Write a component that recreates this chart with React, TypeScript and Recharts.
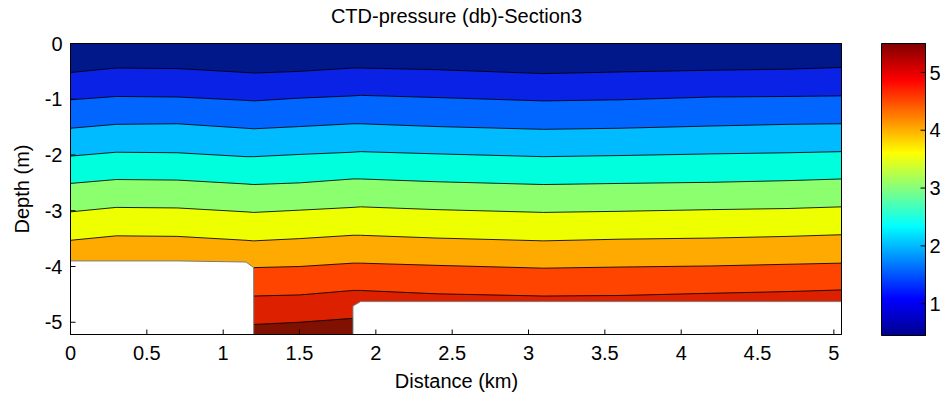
import { Area, Bar, BarChart, CartesianGrid, ComposedChart, Line, ReferenceArea, XAxis, YAxis } from 'recharts';

// distance along the section (km); repeated values give the vertical steps of the seabed
const DIST = [0, 0.3, 0.7, 1.15, 1.2, 1.2, 1.5, 1.85, 1.85, 1.9, 2.4, 3.1, 3.6, 4.2, 4.7, 5.05];
const FLOOR = -5.22;

// seabed outline (m), everything below it is blanked
const SEABED = [-3.9, -3.9, -3.9, -3.92, -4.02, FLOOR, FLOOR, FLOOR, -4.71, -4.63, -4.63, -4.63, -4.63, -4.63, -4.63, -4.63];

// depth of each pressure contour (db level -> m)
const P05 = [-0.52, -0.44, -0.45, -0.52, -0.53, -0.53, -0.5, -0.44, -0.44, -0.44, -0.47, -0.54, -0.51, -0.48, -0.46, -0.43];
const P10 = [-1.01, -0.95, -0.96, -1.02, -1.03, -1.03, -0.98, -0.94, -0.94, -0.93, -0.97, -1.03, -1.01, -0.96, -0.95, -0.94];
const P15 = [-1.52, -1.45, -1.44, -1.52, -1.53, -1.53, -1.49, -1.44, -1.44, -1.44, -1.49, -1.54, -1.52, -1.48, -1.45, -1.44];
const P20 = [-2.02, -1.95, -1.96, -2.03, -2.03, -2.03, -1.99, -1.95, -1.95, -1.94, -1.98, -2.03, -2.01, -1.98, -1.96, -1.94];
const P25 = [-2.51, -2.44, -2.45, -2.52, -2.53, -2.53, -2.5, -2.43, -2.43, -2.43, -2.48, -2.53, -2.51, -2.49, -2.46, -2.43];
const P30 = [-3.02, -2.94, -2.95, -3.02, -3.03, -3.03, -2.99, -2.94, -2.94, -2.93, -2.98, -3.03, -3.01, -2.98, -2.96, -2.93];
const P35 = [-3.53, -3.45, -3.46, -3.53, -3.54, -3.54, -3.5, -3.44, -3.44, -3.44, -3.49, -3.54, -3.51, -3.49, -3.46, -3.43];
const P40 = [FLOOR, FLOOR, FLOOR, FLOOR, -4.02, -4.02, -4.0, -3.94, -3.94, -3.94, -3.98, -4.03, -4.01, -3.99, -3.96, -3.94];
const P45 = [FLOOR, FLOOR, FLOOR, FLOOR, -4.53, -4.53, -4.51, -4.43, -4.43, -4.43, -4.49, -4.53, -4.52, -4.48, -4.45, -4.42];
const P50 = [FLOOR, FLOOR, FLOOR, FLOOR, -5.04, -5.04, -5.0, -4.93, FLOOR, FLOOR, FLOOR, FLOOR, FLOOR, FLOOR, FLOOR, FLOOR];

const LEVELS = [
  { key: 'p05', values: P05 }, { key: 'p10', values: P10 }, { key: 'p15', values: P15 },
  { key: 'p20', values: P20 }, { key: 'p25', values: P25 }, { key: 'p30', values: P30 },
  { key: 'p35', values: P35 }, { key: 'p40', values: P40 }, { key: 'p45', values: P45 },
  { key: 'p50', values: P50 },
];

const X_DOMAIN = [0, 5.05];
const Y_DOMAIN = [FLOOR, 0];
const X_TICKS = [0, 0.5, 1, 1.5, 2, 2.5, 3, 3.5, 4, 4.5, 5];
const Y_TICKS = [-5, -4, -3, -2, -1, 0];

const CB_RANGE = [0.45, 5.5];
const CB_TICKS = [1, 2, 3, 4, 5];

// band fill above each contour, shallow to deep; last one is below the deepest contour
const BAND_COLORS = [
  '#00188a', '#0a22e6', '#0066ff', '#00bbff', '#00ffdd', '#8cff6e',
  '#eeff00', '#ffaa00', '#ff4400', '#dd2000', '#801000',
];
const JET_STOPS = [
  [0, '#800000'], [0.125, '#ff0000'], [0.375, '#ffff00'], [0.5, '#80ff80'],
  [0.625, '#00ffff'], [0.875, '#0000ff'], [1, '#00008f'],
] as const;

const FONT = '"Liberation Sans", Arial, sans-serif';
const tickStyle = { fill: '#000', fontSize: 20, fontFamily: FONT };
const AXIS_COLOR = '#000';

// plot box: x 70.5..841.5, y 43.5..334.5 (half pixels keep the 1px frame crisp)
const MAIN_FILL_MARGIN = { top: 43.5, right: 18.5, bottom: 67.5, left: 70.5 };
const MAIN_AXES_MARGIN = { top: 43.5, right: 18.5, bottom: 37.5, left: 20.5 };
// colour bar: x 881.5..925.5, y 43.5..335.5
const CB_FILL_MARGIN = { top: 43.5, right: 20.5, bottom: 66.5, left: 5.5 };
const CB_AXES_MARGIN = { top: 43.5, right: 6.5, bottom: 66.5, left: 5.5 };

const rows = DIST.map((d, i) => {
  const row: Record<string, number> = { d, seabed: SEABED[i] };
  LEVELS.forEach((l) => { row[l.key] = l.values[i]; });
  return row;
});
const cbRows = [{ name: 'cb', range: CB_RANGE }];

const layer = (left: number, z: number) => ({
  position: 'absolute' as const, left, top: 0, zIndex: z,
});

export default function App() {
  return (
    <div style={{ position: 'absolute', left: 0, top: 0, width: 946, height: 402, background: '#fff', fontFamily: FONT }}>
      {/* contour fill */}
      <div style={layer(0, 1)}>
        <ComposedChart width={860} height={402} data={rows} margin={MAIN_FILL_MARGIN}>
          <CartesianGrid horizontal={false} vertical={false} fill={BAND_COLORS[10]} fillOpacity={1} />
          {LEVELS.map((l, i) => ({ l, i })).reverse().map(({ l, i }) => (
            <Area
              key={l.key}
              dataKey={l.key}
              type="linear"
              baseValue={0}
              fill={BAND_COLORS[i]}
              fillOpacity={1}
              stroke="#000"
              strokeOpacity={0.85}
              strokeWidth={1}
              dot={false}
              activeDot={false}
              isAnimationActive={false}
            />
          ))}
          <Area
            dataKey="seabed"
            type="linear"
            baseValue="dataMin"
            fill="#fff"
            fillOpacity={1}
            stroke="#7a7a7a"
            strokeWidth={1}
            dot={false}
            activeDot={false}
            isAnimationActive={false}
          />
          <XAxis dataKey="d" type="number" domain={X_DOMAIN} hide />
          <YAxis type="number" domain={Y_DOMAIN} hide />
        </ComposedChart>
      </div>

      {/* axes box drawn over the fill */}
      <div style={layer(0, 2)}>
        <ComposedChart width={860} height={402} data={rows} margin={MAIN_AXES_MARGIN}>
          <Line dataKey="seabed" stroke="none" dot={false} activeDot={false} isAnimationActive={false} />
          <Line
            dataKey="seabed" xAxisId="top" yAxisId="right" stroke="none"
            dot={false} activeDot={false} isAnimationActive={false}
          />
          <ReferenceArea x1={0} x2={5.05} y1={FLOOR} y2={0} fill="none" stroke={AXIS_COLOR} strokeWidth={1} ifOverflow="visible" />
          <XAxis
            dataKey="d" type="number" domain={X_DOMAIN} ticks={X_TICKS} height={30}
            tickSize={-5} tickMargin={16} stroke={AXIS_COLOR} tick={tickStyle}
          />
          <XAxis
            xAxisId="top" orientation="top" dataKey="d" type="number" domain={X_DOMAIN} ticks={X_TICKS}
            height={0} tickSize={-5} tick={false} stroke={AXIS_COLOR}
          />
          <YAxis
            type="number" domain={Y_DOMAIN} ticks={Y_TICKS} width={50}
            tickSize={-5} tickMargin={13} stroke={AXIS_COLOR} tick={tickStyle}
          />
          <YAxis
            yAxisId="right" orientation="right" type="number" domain={Y_DOMAIN} ticks={Y_TICKS}
            width={0} tickSize={-5} tick={false} stroke={AXIS_COLOR}
          />
        </ComposedChart>
      </div>

      {/* colour bar */}
      <div style={layer(876, 1)}>
        <BarChart width={70} height={402} data={cbRows} margin={CB_FILL_MARGIN} barCategoryGap={0}>
          <defs>
            <linearGradient id="jet" x1="0" y1="0" x2="0" y2="1">
              {JET_STOPS.map(([o, c]) => <stop key={o} offset={o} stopColor={c} />)}
            </linearGradient>
          </defs>
          <XAxis dataKey="name" hide />
          <YAxis type="number" domain={CB_RANGE} hide />
          <Bar dataKey="range" fill="url(#jet)" stroke={AXIS_COLOR} strokeWidth={1} isAnimationActive={false} />
        </BarChart>
      </div>
      <div style={layer(876, 2)}>
        <BarChart width={70} height={402} data={cbRows} margin={CB_AXES_MARGIN} barCategoryGap={0}>
          <Bar dataKey="range" fill="none" isAnimationActive={false} />
          <Bar dataKey="range" yAxisId="l" fill="none" isAnimationActive={false} />
          <XAxis dataKey="name" hide />
          <YAxis
            orientation="right" type="number" domain={CB_RANGE} ticks={CB_TICKS} width={14}
            tickSize={-5} tickMargin={9} stroke={AXIS_COLOR} tick={tickStyle}
          />
          <YAxis
            yAxisId="l" orientation="left" type="number" domain={CB_RANGE} ticks={CB_TICKS}
            width={0} tickSize={-5} tick={false} stroke={AXIS_COLOR}
          />
        </BarChart>
      </div>

      <div style={{ position: 'absolute', zIndex: 3, left: 0, width: 913, top: 5, textAlign: 'center', fontSize: 20 }}>
        CTD-pressure (db)-Section3
      </div>
      <div style={{ position: 'absolute', zIndex: 3, left: 0, width: 913, top: 370, textAlign: 'center', fontSize: 20 }}>
        Distance (km)
      </div>
      <div style={{
        position: 'absolute', zIndex: 3, left: 22, top: 189, fontSize: 20, whiteSpace: 'nowrap',
        transform: 'translate(-50%, -50%) rotate(-90deg)',
      }}>
        Depth (m)
      </div>
    </div>
  );
}
